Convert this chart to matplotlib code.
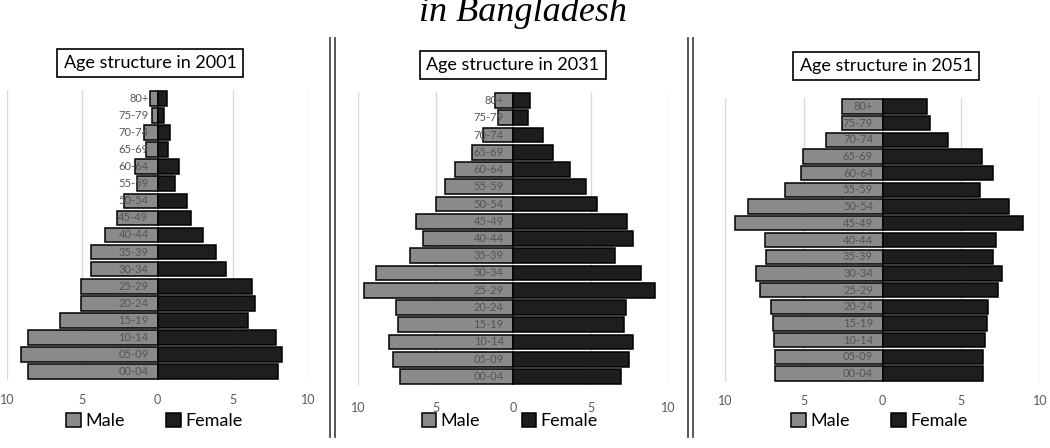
import matplotlib
matplotlib.use("Agg")
import matplotlib.pyplot as plt
from matplotlib.lines import Line2D

plt.rcParams['font.family'] = ['Lato', 'DejaVu Sans']

age_groups = ['00-04', '05-09', '10-14', '15-19', '20-24', '25-29', '30-34', '35-39',
              '40-44', '45-49', '50-54', '55-59', '60-64', '65-69', '70-74', '75-79', '80+']

years = ['2001', '2031', '2051']

male_2001 = [8.6, 9.1, 8.6, 6.5, 5.05, 5.1, 4.45, 4.4, 3.5, 2.7, 2.2, 1.35, 1.5, 0.76, 0.9, 0.37, 0.52]
female_2001 = [8.0, 8.28, 7.85, 6.04, 6.5, 6.3, 4.57, 3.87, 3.0, 2.24, 1.96, 1.15, 1.43, 0.72, 0.83, 0.4, 0.6]

male_2031 = [7.27, 7.76, 8.02, 7.42, 7.55, 9.63, 8.84, 6.62, 5.83, 6.24, 4.97, 4.41, 3.72, 2.65, 1.94, 0.99, 1.14]
female_2031 = [6.99, 7.46, 7.72, 7.14, 7.31, 9.18, 8.28, 6.56, 7.72, 7.35, 5.42, 4.73, 3.7, 2.58, 1.94, 0.95, 1.12]

male_2051 = [6.81, 6.81, 6.91, 6.98, 7.06, 7.76, 8.01, 7.38, 7.44, 9.39, 8.54, 6.22, 5.18, 5.07, 3.57, 2.58, 2.58]
female_2051 = [6.41, 6.41, 6.51, 6.62, 6.72, 7.36, 7.61, 7.04, 7.21, 8.94, 8.05, 6.19, 7.04, 6.34, 4.14, 3.02, 2.81]

ticks = [-10, -5, 0, 5, 10]
tick_labels = ['10', '5', '0', '5', '10']

male_color = '#8a8a8a'
female_color = '#1e1e1e'

W, H = 1050, 448
fig = plt.figure(figsize=(W / 100, H / 100), dpi=100)

# pixel boxes: left, right, top, bottom, title y, title x, tick pad
panels = [
    (7, 308, 90, 380, 63, 150, 10),
    (358, 668, 92, 385, 65, 513, 12),
    (725, 1040, 98, 382, 66, 886, 9.5),
]
data = [(male_2001, female_2001), (male_2031, female_2031), (male_2051, female_2051)]

for (l, r, t, b, ty, tx, pad), (male, female), year in zip(panels, data, years):
    ax = fig.add_axes([l / W, 1 - b / H, (r - l) / W, (b - t) / H])
    y = range(len(age_groups))
    hm = ax.barh(y, [-v for v in male], height=0.86, color=male_color,
                 edgecolor='black', linewidth=1.1, label='Male', zorder=2)
    hf = ax.barh(y, female, height=0.86, color=female_color,
                 edgecolor='black', linewidth=1.1, label='Female', zorder=2)
    for i, g in enumerate(age_groups):
        ax.text(-0.6, i, g, ha='right', va='center', fontsize=8,
                color='#555555', zorder=3)
    ax.set_xlim(-10, 10)
    ax.set_ylim(-0.5, len(age_groups) - 0.5)
    ax.set_xticks(ticks)
    ax.set_xticklabels(tick_labels, fontsize=9, color='#595959')
    ax.set_yticks([])
    ax.tick_params(axis='x', length=0, pad=pad)
    ax.grid(axis='x', color='#d9d9d9', linewidth=1, zorder=0)
    for s in ax.spines.values():
        s.set_visible(False)

    fig.text(tx / W, 1 - ty / H, 'Age structure in ' + year, ha='center', va='center',
             fontsize=13, color='black',
             bbox=dict(boxstyle='square,pad=0.35', facecolor='white',
                       edgecolor='black', linewidth=1.2))

    ax.legend(handles=[hm, hf], loc='center', ncol=2, frameon=False,
              bbox_to_anchor=((l + r) / 2 / W - 0.003, 1 - 421 / H),
              bbox_transform=fig.transFigure, fontsize=13,
              handlelength=0.8, handleheight=0.8, handletextpad=0.25,
              columnspacing=2.3, borderpad=0.1)

# double separator lines
for x in [330, 335, 688, 693]:
    fig.add_artist(Line2D([x / W, x / W], [1 - 437 / H, 1 - 38 / H],
                          color='#4a4a4a', linewidth=1.3, transform=fig.transFigure))

fig.text(523 / W, 1 - 21 / H, 'in Bangladesh', ha='center', va='baseline',
         family='Liberation Serif', style='italic', fontsize=26)

fig.savefig('out.png', dpi=100)
